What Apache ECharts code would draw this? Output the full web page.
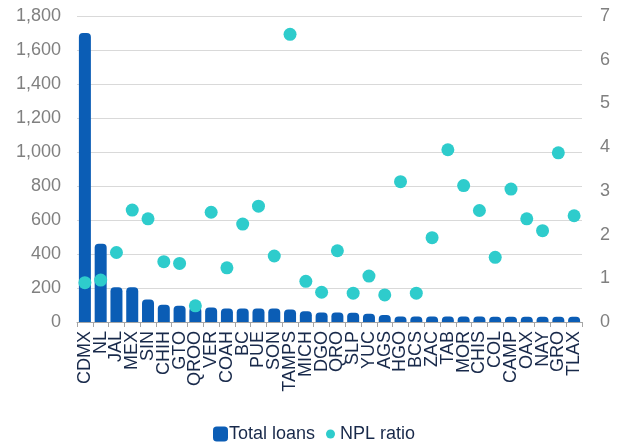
<!DOCTYPE html>
<html>
<head>
<meta charset="utf-8">
<script src="https://cdn.jsdelivr.net/npm/echarts@6/dist/echarts.min.js"></script>
<style>
  html, body { margin: 0; padding: 0; background: #fff; }
  #chart { width: 620px; height: 445px; }
</style>
</head>
<body>
<div id="chart"></div>
<script>
// States, ordered by total loans
const states = ['CDMX','NL','JAL','MEX','SIN','CHIH','GTO','QROO','VER','COAH','BC','PUE','SON','TAMPS','MICH','DGO','QRO','SLP','YUC','AGS','HGO','BCS','ZAC','TAB','MOR','CHIS','COL','CAMP','OAX','NAY','GRO','TLAX'];

// Total loans (left axis)
const totalLoans = [1700, 460, 205, 205, 132, 102, 95, 88, 86, 79, 79, 79, 79, 73, 63, 56, 56, 55, 48, 41, 33, 33, 32, 32, 32, 32, 31, 31, 31, 31, 31, 31];

// NPL ratio, % (right axis)
const nplRatio = [0.90, 0.96, 1.59, 2.56, 2.36, 1.38, 1.34, 0.37, 2.51, 1.24, 2.24, 2.65, 1.51, 6.58, 0.93, 0.68, 1.63, 0.66, 1.05, 0.62, 3.21, 0.66, 1.93, 3.94, 3.12, 2.55, 1.48, 3.04, 2.36, 2.09, 3.87, 2.43];

// Axis ranges
const loansAxis = { min: 0, max: 1800, step: 200 };
const ratioAxis = { min: 0, max: 7, step: 1 };

const chart = echarts.init(document.getElementById('chart'), null, { renderer: 'canvas' });

const font = 'Liberation Sans, Arial, sans-serif';
const barColor = '#0b5db5';
const dotColor = '#2ecccc';
const navy = '#18294a';

chart.setOption({
  animation: false,
  textStyle: { fontFamily: font },
  grid: { left: 77, right: 38, top: 16, bottom: 123, containLabel: false },
  legend: [
    {
      data: [{ name: 'Total loans', icon: 'roundRect' }],
      left: 208, top: 420,
      itemWidth: 15, itemHeight: 15,
      textStyle: { color: navy, fontSize: 18, fontFamily: font, padding: [0, 0, 0, -4] }
    },
    {
      data: [{ name: 'NPL ratio', icon: 'circle' }],
      left: 321, top: 420,
      itemWidth: 9, itemHeight: 9,
      textStyle: { color: navy, fontSize: 18, fontFamily: font }
    }
  ],
  xAxis: {
    type: 'category',
    data: states,
    boundaryGap: true,
    axisLine: { lineStyle: { color: '#a6a6a6', width: 1 } },
    axisTick: { show: true, alignWithLabel: false, length: 5, lineStyle: { color: '#a6a6a6' } },
    axisLabel: {
      interval: 0, rotate: 90, margin: 9,
      color: navy, fontSize: 18, fontFamily: font
    },
    splitLine: { show: false }
  },
  yAxis: [
    {
      type: 'value',
      min: loansAxis.min, max: loansAxis.max, interval: loansAxis.step,
      axisLine: { show: false },
      axisTick: { show: false },
      axisLabel: {
        color: '#808080', fontSize: 18, fontFamily: font, margin: 16,
        formatter: v => v.toLocaleString('en-US')
      },
      splitLine: { lineStyle: { color: '#d9d9d9', width: 1 } }
    },
    {
      type: 'value',
      min: ratioAxis.min, max: ratioAxis.max, interval: ratioAxis.step,
      alignTicks: false,
      axisLine: { show: false },
      axisTick: { show: false },
      axisLabel: { color: '#808080', fontSize: 18, fontFamily: font, margin: 18 },
      splitLine: { show: false }
    }
  ],
  series: [
    {
      name: 'Total loans',
      type: 'bar',
      yAxisIndex: 0,
      data: totalLoans,
      barWidth: 12,
      itemStyle: { color: barColor, borderRadius: [4, 4, 0, 0] },
      z: 2
    },
    {
      name: 'NPL ratio',
      type: 'scatter',
      yAxisIndex: 1,
      data: nplRatio,
      symbol: 'circle',
      symbolSize: 13,
      itemStyle: { color: dotColor, opacity: 1 },
      z: 3
    }
  ]
});
</script>
</body>
</html>
